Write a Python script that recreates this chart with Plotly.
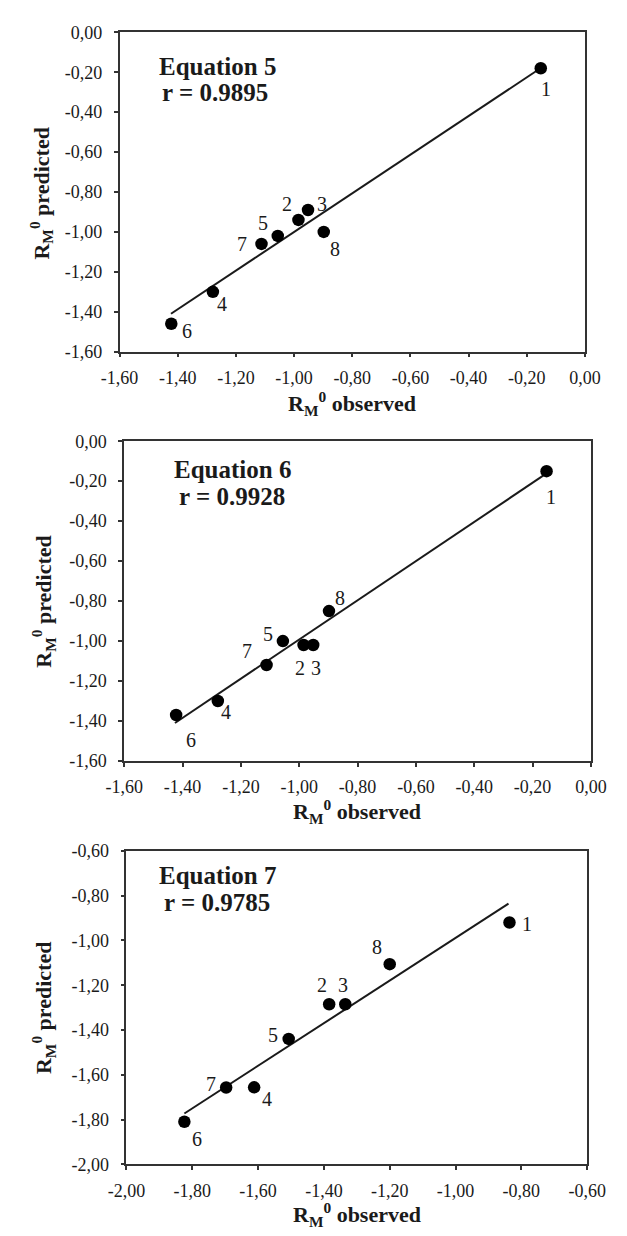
import plotly.graph_objects as go

# ---------------- data ----------------
compounds = ["1", "2", "3", "4", "5", "6", "7", "8"]

eq5_observed = [-0.152, -0.985, -0.952, -1.279, -1.056, -1.422, -1.112, -0.898]
eq5_predicted = [-0.18, -0.94, -0.89, -1.30, -1.02, -1.46, -1.06, -1.00]
eq5_fit_x = [-1.423, -0.153]
eq5_fit_y = [-1.41, -0.18]
eq5_r = "0.9895"

eq6_observed = [-0.152, -0.985, -0.952, -1.279, -1.056, -1.422, -1.112, -0.898]
eq6_predicted = [-0.15, -1.02, -1.02, -1.30, -1.00, -1.37, -1.12, -0.85]
eq6_fit_x = [-1.426, -0.151]
eq6_fit_y = [-1.41, -0.16]
eq6_r = "0.9928"

eq7_observed = [-0.836, -1.384, -1.335, -1.612, -1.507, -1.824, -1.697, -1.200]
eq7_predicted = [-0.92, -1.285, -1.285, -1.656, -1.44, -1.81, -1.657, -1.106]
eq7_fit_x = [-1.824, -0.839]
eq7_fit_y = [-1.773, -0.836]
eq7_r = "0.9785"

ticks_a = [-1.6, -1.4, -1.2, -1.0, -0.8, -0.6, -0.4, -0.2, 0.0]
ticklabels_a = ["-1,60", "-1,40", "-1,20", "-1,00", "-0,80", "-0,60", "-0,40", "-0,20", "0,00"]
ticks_b = [-2.0, -1.8, -1.6, -1.4, -1.2, -1.0, -0.8, -0.6]
ticklabels_b = ["-2,00", "-1,80", "-1,60", "-1,40", "-1,20", "-1,00", "-0,80", "-0,60"]

# ---------------- layout / style ----------------
W, H = 627, 1236
SERIF = "Times New Roman, Liberation Serif, DejaVu Serif, serif"
INK = "#1a1a1a"

# panel boxes in pixels: left, right, top, bottom
panels = [
    dict(box=(107, 602.5, 22.7, 347.3), obs=eq5_observed, pred=eq5_predicted,
         fx=eq5_fit_x, fy=eq5_fit_y, eq="Equation 5", r=eq5_r,
         rng=(-1.6, 0.0), ticks=ticks_a, labels=ticklabels_a,
         eqpos=((211, 57), (209, 84)), ytitle=(24, 187), xtitle=(355, 400),
         offs=[(5, 21), (-11, -16), (13.6, -6), (9.6, 12), (-14.4, -13), (16, 7), (-19.6, 0), (11.2, 17)]),
    dict(box=(112, 608.8, 438.3, 763.3), obs=eq6_observed, pred=eq6_predicted,
         fx=eq6_fit_x, fy=eq6_fit_y, eq="Equation 6", r=eq6_r,
         rng=(-1.6, 0.0), ticks=ticks_a, labels=ticklabels_a,
         eqpos=((227, 466.7), (227, 495)), ytitle=(26, 601), xtitle=(360, 815),
         offs=[(4, 26), (-3.6, 23), (2.4, 23), (8, 11), (-15.2, -7), (14.8, 25), (-19.2, -14), (11.2, -13)]),
    dict(box=(114.4, 604.8, 854.7, 1173.3), obs=eq7_observed, pred=eq7_predicted,
         fx=eq7_fit_x, fy=eq7_fit_y, eq="Equation 7", r=eq7_r,
         rng=(-2.0, -0.6), ticks=ticks_b, labels=ticklabels_b,
         eqpos=((211, 880), (211, 907)), ytitle=(26, 1014), xtitle=(360, 1224),
         offs=[(17.2, 1), (-7.6, -19), (-2.4, -19), (12.8, 12), (-15.2, -4), (12.8, 17), (-15.6, -4), (-12.8, -17)]),
]

fig = go.Figure()
annotations = []
layout_axes = {}

for i, p in enumerate(panels, start=1):
    xa = "x" if i == 1 else f"x{i}"
    ya = "y" if i == 1 else f"y{i}"
    l, r, t, b = p["box"]
    axis_common = dict(
        range=list(p["rng"]), tickmode="array", tickvals=p["ticks"], ticktext=p["labels"],
        showline=True, linecolor="#333", linewidth=1.5, mirror=True,
        ticks="outside", ticklen=4, tickwidth=1.5, tickcolor="#333",
        showgrid=False, zeroline=False,
        tickfont=dict(family=SERIF, size=18, color=INK),
    )
    layout_axes["xaxis" if i == 1 else f"xaxis{i}"] = dict(
        axis_common, domain=[l / W, r / W], anchor=ya, ticklabelstandoff=5)
    layout_axes["yaxis" if i == 1 else f"yaxis{i}"] = dict(
        axis_common, domain=[1 - b / H, 1 - t / H], anchor=xa, ticklabelstandoff=8)

    fig.add_trace(go.Scatter(x=p["fx"], y=p["fy"], mode="lines",
                             line=dict(color=INK, width=2), xaxis=xa, yaxis=ya,
                             showlegend=False, hoverinfo="skip"))
    fig.add_trace(go.Scatter(x=p["obs"], y=p["pred"], mode="markers",
                             marker=dict(color="black", size=12.5), xaxis=xa, yaxis=ya,
                             showlegend=False, cliponaxis=False))

    for name, ox, py, (dx, dy) in zip(compounds, p["obs"], p["pred"], p["offs"]):
        annotations.append(dict(x=ox, y=py, xref=xa, yref=ya, text=name, showarrow=False,
                                xshift=dx, yshift=-dy,
                                font=dict(family=SERIF, size=20, color=INK)))

    (e1x, e1y), (e2x, e2y) = p["eqpos"]
    annotations.append(dict(x=e1x / W, y=1 - e1y / H, xref="paper", yref="paper",
                            text=f"<b>{p['eq']}</b>", showarrow=False,
                            xanchor="center", yanchor="middle",
                            font=dict(family=SERIF, size=25, color=INK)))
    annotations.append(dict(x=e2x / W, y=1 - e2y / H, xref="paper", yref="paper",
                            text=f"<b>r = {p['r']}</b>", showarrow=False,
                            xanchor="center", yanchor="middle",
                            font=dict(family=SERIF, size=25, color=INK)))
    tx, ty = p["ytitle"]
    annotations.append(dict(x=tx / W, y=1 - ty / H, xref="paper", yref="paper",
                            text="<b>R<sub>M</sub><sup>0</sup> predicted</b>", showarrow=False,
                            textangle=-90, xanchor="center", yanchor="middle",
                            font=dict(family=SERIF, size=22, color=INK)))
    tx, ty = p["xtitle"]
    annotations.append(dict(x=tx / W, y=1 - ty / H, xref="paper", yref="paper",
                            text="<b>R<sub>M</sub><sup>0</sup> observed</b>", showarrow=False,
                            xanchor="center", yanchor="middle",
                            font=dict(family=SERIF, size=22, color=INK)))

fig.update_layout(
    width=W, height=H, autosize=False,
    margin=dict(l=0, r=0, t=0, b=0),
    paper_bgcolor="white", plot_bgcolor="white",
    font=dict(family=SERIF, color=INK),
    annotations=annotations,
    **layout_axes,
)

fig.write_html("out.html")
